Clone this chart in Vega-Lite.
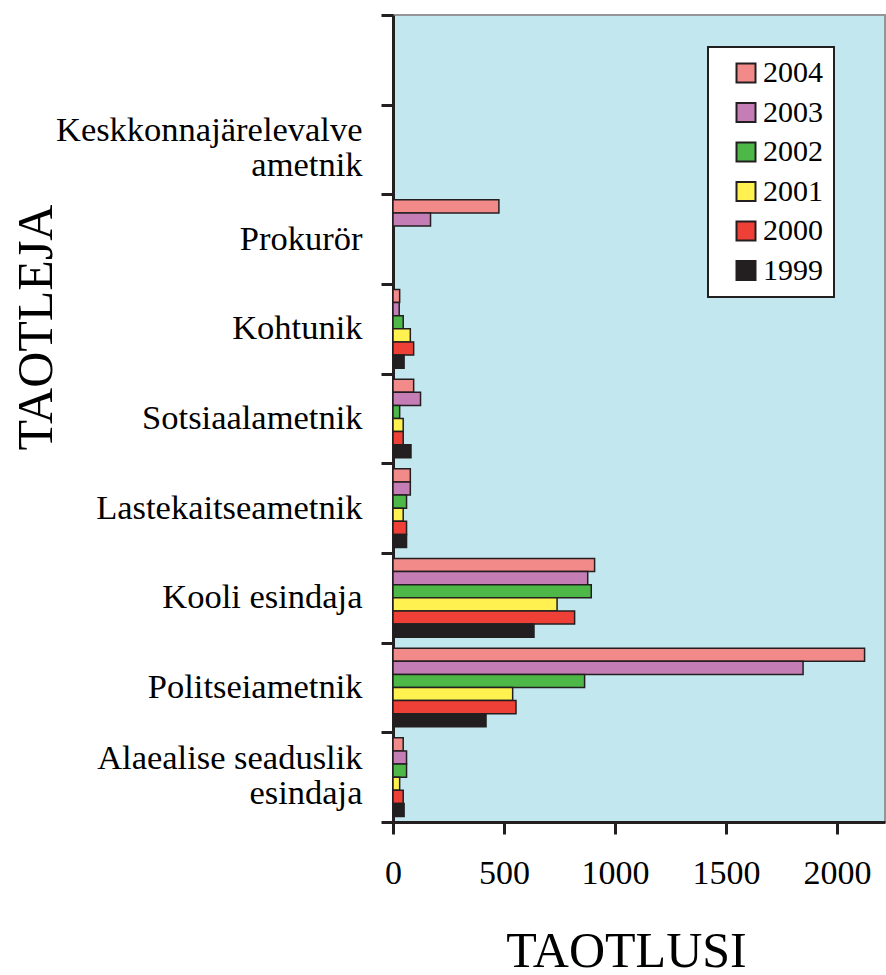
{
  "$schema": "https://vega.github.io/schema/vega-lite/v6.json",
  "width": 492,
  "height": 807,
  "autosize": {"type": "none"},
  "padding": {"left": 393, "top": 15, "right": 1, "bottom": 153},
  "background": "white",
  "data": {
    "values": [
      {"taotleja": "Prokurör", "aasta": "2004", "taotlusi": 477},
      {"taotleja": "Prokurör", "aasta": "2003", "taotlusi": 169},
      {"taotleja": "Kohtunik", "aasta": "2004", "taotlusi": 30},
      {"taotleja": "Kohtunik", "aasta": "2003", "taotlusi": 28},
      {"taotleja": "Kohtunik", "aasta": "2002", "taotlusi": 46},
      {"taotleja": "Kohtunik", "aasta": "2001", "taotlusi": 78},
      {"taotleja": "Kohtunik", "aasta": "2000", "taotlusi": 93},
      {"taotleja": "Kohtunik", "aasta": "1999", "taotlusi": 50},
      {"taotleja": "Sotsiaalametnik", "aasta": "2004", "taotlusi": 93},
      {"taotleja": "Sotsiaalametnik", "aasta": "2003", "taotlusi": 124},
      {"taotleja": "Sotsiaalametnik", "aasta": "2002", "taotlusi": 30},
      {"taotleja": "Sotsiaalametnik", "aasta": "2001", "taotlusi": 46},
      {"taotleja": "Sotsiaalametnik", "aasta": "2000", "taotlusi": 46},
      {"taotleja": "Sotsiaalametnik", "aasta": "1999", "taotlusi": 81},
      {"taotleja": "Lastekaitseametnik", "aasta": "2004", "taotlusi": 78},
      {"taotleja": "Lastekaitseametnik", "aasta": "2003", "taotlusi": 78},
      {"taotleja": "Lastekaitseametnik", "aasta": "2002", "taotlusi": 61},
      {"taotleja": "Lastekaitseametnik", "aasta": "2001", "taotlusi": 46},
      {"taotleja": "Lastekaitseametnik", "aasta": "2000", "taotlusi": 61},
      {"taotleja": "Lastekaitseametnik", "aasta": "1999", "taotlusi": 61},
      {"taotleja": "Kooli esindaja", "aasta": "2004", "taotlusi": 908},
      {"taotleja": "Kooli esindaja", "aasta": "2003", "taotlusi": 877},
      {"taotleja": "Kooli esindaja", "aasta": "2002", "taotlusi": 893},
      {"taotleja": "Kooli esindaja", "aasta": "2001", "taotlusi": 739},
      {"taotleja": "Kooli esindaja", "aasta": "2000", "taotlusi": 818},
      {"taotleja": "Kooli esindaja", "aasta": "1999", "taotlusi": 635},
      {"taotleja": "Politseiametnik", "aasta": "2004", "taotlusi": 2124},
      {"taotleja": "Politseiametnik", "aasta": "2003", "taotlusi": 1847},
      {"taotleja": "Politseiametnik", "aasta": "2002", "taotlusi": 863},
      {"taotleja": "Politseiametnik", "aasta": "2001", "taotlusi": 539},
      {"taotleja": "Politseiametnik", "aasta": "2000", "taotlusi": 554},
      {"taotleja": "Politseiametnik", "aasta": "1999", "taotlusi": 419},
      {"taotleja": "Alaealise seaduslik esindaja", "aasta": "2004", "taotlusi": 46},
      {"taotleja": "Alaealise seaduslik esindaja", "aasta": "2003", "taotlusi": 61},
      {"taotleja": "Alaealise seaduslik esindaja", "aasta": "2002", "taotlusi": 61},
      {"taotleja": "Alaealise seaduslik esindaja", "aasta": "2001", "taotlusi": 30},
      {"taotleja": "Alaealise seaduslik esindaja", "aasta": "2000", "taotlusi": 46},
      {"taotleja": "Alaealise seaduslik esindaja", "aasta": "1999", "taotlusi": 50}
    ]
  },
  "mark": {"type": "bar", "stroke": "#231f20", "strokeWidth": 1.5},
  "encoding": {
    "y": {
      "field": "taotleja",
      "type": "nominal",
      "scale": {
        "domain": ["_blank_", "Keskkonnajärelevalve ametnik", "Prokurör", "Kohtunik", "Sotsiaalametnik", "Lastekaitseametnik", "Kooli esindaja", "Politseiametnik", "Alaealise seaduslik esindaja"],
        "paddingInner": 0,
        "paddingOuter": 0
      },
      "axis": {
        "title": "TAOTLEJA",
        "tickBand": "extent",
        "labelExpr": "datum.value == 'Keskkonnajärelevalve ametnik' ? ['Keskkonnajärelevalve', 'ametnik'] : datum.value == 'Alaealise seaduslik esindaja' ? ['Alaealise seaduslik', 'esindaja'] : datum.value == '_blank_' ? '' : datum.value",
        "labelFont": "Liberation Serif",
        "labelFontSize": 34.5,
        "labelLineHeight": 35,
        "labelPadding": 19,
        "labelLimit": 500,
        "labelBaseline": "middle",
        "labelOffset": {
          "condition": {"test": "datum.value == 'Keskkonnajärelevalve ametnik' || datum.value == 'Alaealise seaduslik esindaja'", "value": -19},
          "value": 0
        },
        "tickSize": 12,
        "titleFont": "Liberation Serif",
        "titleFontSize": 50,
        "titleFontWeight": "normal",
        "titleAngle": -90,
        "titleX": -357,
        "titleY": 312,
        "titleBaseline": "middle",
        "titleAlign": "center"
      }
    },
    "yOffset": {
      "field": "aasta",
      "type": "nominal",
      "scale": {"domain": ["2004", "2003", "2002", "2001", "2000", "1999"], "paddingInner": 0, "paddingOuter": 0.42}
    },
    "x": {
      "field": "taotlusi",
      "type": "quantitative",
      "scale": {"domain": [0, 2216], "nice": false},
      "axis": {
        "title": "TAOTLUSI",
        "values": [0, 500, 1000, 1500, 2000],
        "format": "d",
        "labelFont": "Liberation Serif",
        "labelFontSize": 34,
        "labelBaseline": "alphabetic",
        "labelPadding": 49,
        "labelFlush": false,
        "tickSize": 12,
        "titleFont": "Liberation Serif",
        "titleFontSize": 50,
        "titleFontWeight": "normal",
        "titleX": 233,
        "titleY": 144,
        "titleBaseline": "alphabetic",
        "titleAlign": "center"
      }
    },
    "color": {
      "field": "aasta",
      "type": "nominal",
      "scale": {
        "domain": ["2004", "2003", "2002", "2001", "2000", "1999"],
        "range": ["#f28a89", "#c47db5", "#4db848", "#fff150", "#ee4036", "#231f20"]
      },
      "legend": {
        "title": null,
        "orient": "none",
        "legendX": 315,
        "legendY": 32,
        "fillColor": "white",
        "strokeColor": "#231f20",
        "padding": 11,
        "rowPadding": 9.5,
        "symbolType": "square",
        "symbolSize": 361,
        "symbolStrokeColor": "#231f20",
        "symbolStrokeWidth": 2,
        "symbolOffset": 12,
        "labelFont": "Liberation Serif",
        "labelFontSize": 30,
        "labelOffset": 2,
        "labelColor": "black",
        "labelExpr": "datum.label + '    '",
        "encode": {
          "legend": {"update": {"strokeWidth": {"value": 2}}}
        }
      }
    }
  },
  "config": {
    "font": "Liberation Serif",
    "view": {"fill": "#c2e7ee", "stroke": "#939598", "strokeWidth": 2},
    "axis": {
      "domainColor": "#231f20",
      "domainWidth": 3,
      "tickColor": "#231f20",
      "tickWidth": 3,
      "labelColor": "black",
      "titleColor": "black",
      "grid": false,
      "zindex": 1
    }
  }
}
